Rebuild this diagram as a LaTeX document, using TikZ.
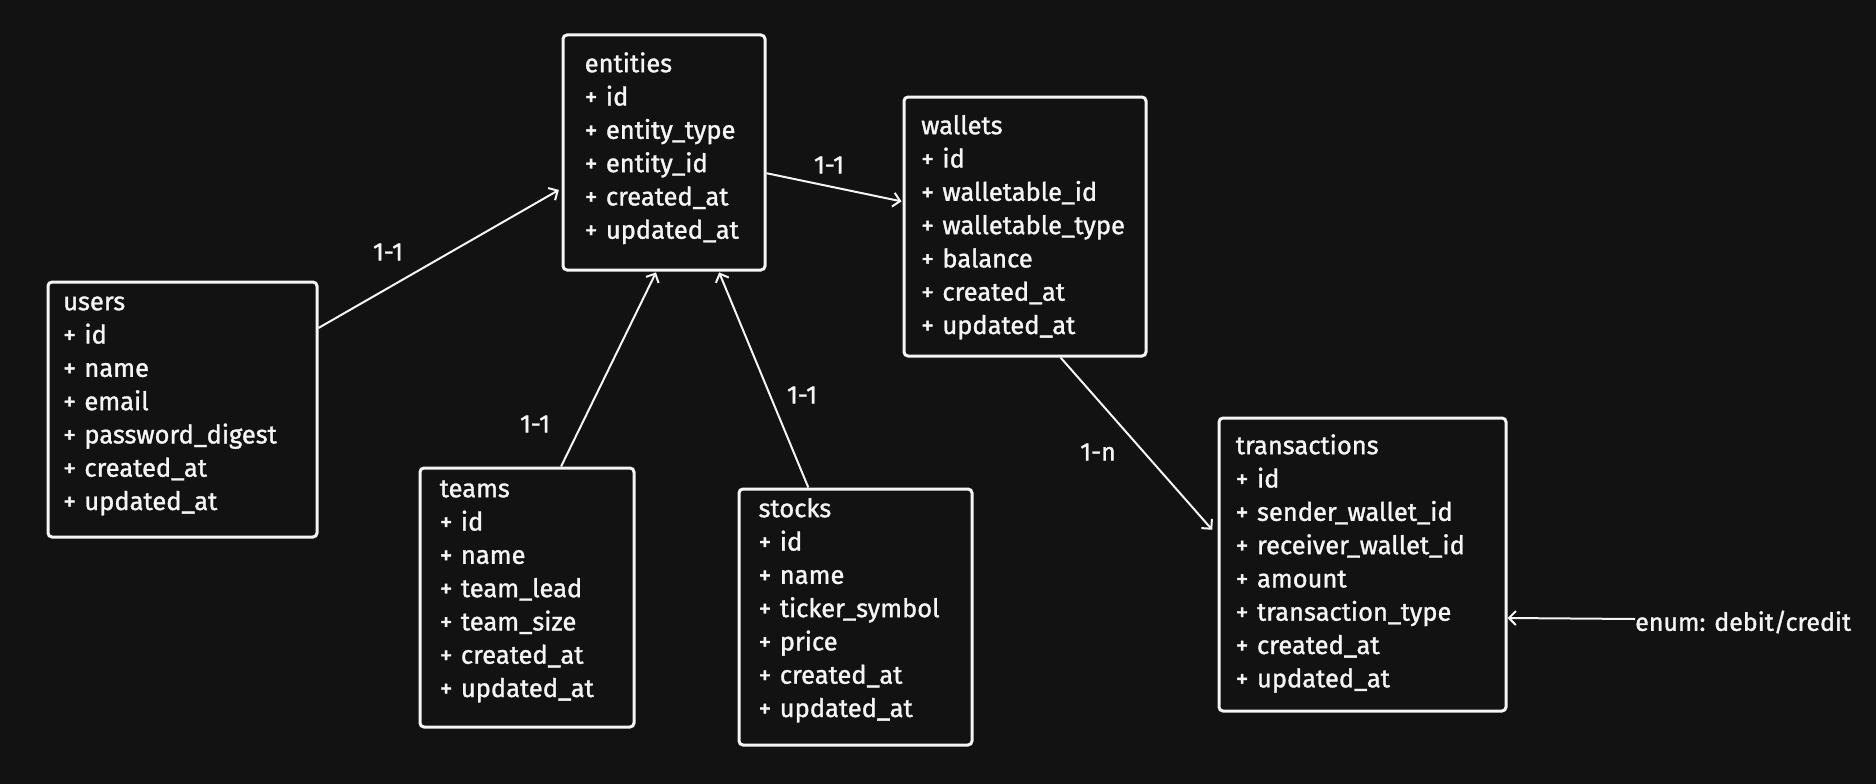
\documentclass[tikz,border=0pt]{standalone}
\usepackage{fontspec}
\setmainfont{Fira Sans}[FakeBold=1.3]
\usetikzlibrary{calc,arrows.meta}
\definecolor{bg}{RGB}{18,18,18}
\definecolor{fg}{RGB}{245,245,245}
\tikzset{
  tbl/.style={draw=fg, line width=3pt, rounded corners=4pt, fill=bg, inner sep=0pt},
  rows/.style={text=fg, anchor=north west, inner sep=0pt, text width=320pt,
    font=\fontsize{25.5}{33.3}\selectfont},
  lbl/.style={text=fg, inner sep=0pt, font=\fontsize{25}{28}\selectfont},
  link/.style={draw=fg, line width=2pt, -{Straight Barb[length=7pt,width=14pt,line width=2pt]}}
}
\begin{document}
\begin{tikzpicture}[x=1pt,y=-1pt]
\fill[bg] (0,0) rectangle (1876,784);
\useasboundingbox (0,0) rectangle (1876,784);

% boxes
\node[tbl, minimum width=202pt, minimum height=235pt] (entities) at (664,152.5) {};
\node[tbl, minimum width=242pt, minimum height=259pt] (wallets) at (1025,226.5) {};
\node[tbl, minimum width=269pt, minimum height=255pt] (users) at (182.5,409.5) {};
\node[tbl, minimum width=214pt, minimum height=259pt] (teams) at (527,597.5) {};
\node[tbl, minimum width=233pt, minimum height=256pt] (stocks) at (855.5,617) {};
\node[tbl, minimum width=287pt, minimum height=293pt] (trans) at (1362.5,564.5) {};

% texts
\node[rows] (entitiesT) at (584.5,48.7) {\strut entities\\+ id\\+ entity\_type\\+ entity\_id\\+ created\_at\\+ updated\_at};
\node[rows] (walletsT) at (921,110.7) {\strut wallets\\+ id\\+ walletable\_id\\+ walletable\_type\\+ balance\\+ created\_at\\+ updated\_at};
\node[rows] (usersT) at (63,286.7) {\strut users\\+ id\\+ name\\+ email\\+ password\_digest\\+ created\_at\\+ updated\_at};
\node[rows] (teamsT) at (439.5,473.7) {\strut teams\\+ id\\+ name\\+ team\_lead\\+ team\_size\\+ created\_at\\+ updated\_at};
\node[rows] (stocksT) at (758.4,493.7) {\strut stocks\\+ id\\+ name\\+ ticker\_symbol\\+ price\\+ created\_at\\+ updated\_at};
\node[rows] (transT) at (1235.6,430.7) {\strut transactions\\+ id\\+ sender\_wallet\_id\\+ receiver\_wallet\_id\\+ amount\\+ transaction\_type\\+ created\_at\\+ updated\_at};

% labels
\node[lbl] (l1) at (388,252) {1-1};
\node[lbl] (l2) at (535,424) {1-1};
\node[lbl] (l3) at (802,395) {1-1};
\node[lbl] (l4) at (829,165) {1-1};
\node[lbl] (l5) at (1098,452) {1-n};
\node[lbl, anchor=west] (enum) at (1635,622) {enum: debit/credit};

% connectors
\draw[link, shorten >=3pt] ($(users.north east)!0.184!(users.south east)$) -- ($(entities.north west)!0.651!(entities.south west)$);
\draw[link, shorten >=1pt] ($(teams.north west)!0.657!(teams.north east)$) -- ($(entities.south west)!0.463!(entities.south east)$);
\draw[link, shorten >=1pt] ($(stocks.north west)!0.30!(stocks.north east)$) -- ($(entities.south west)!0.767!(entities.south east)$);
\draw[link, shorten >=1pt] ($(entities.north east)!0.587!(entities.south east)$) -- ($(wallets.north west)!0.405!(wallets.south west)$);
\draw[link, shorten >=8pt] ($(wallets.south west)!0.645!(wallets.south east)$) -- ($(trans.north west)!0.403!(trans.south west)$);
\draw[link] (enum.west |- 0,619) -- (trans.east |- 0,618);
\end{tikzpicture}
\end{document}
